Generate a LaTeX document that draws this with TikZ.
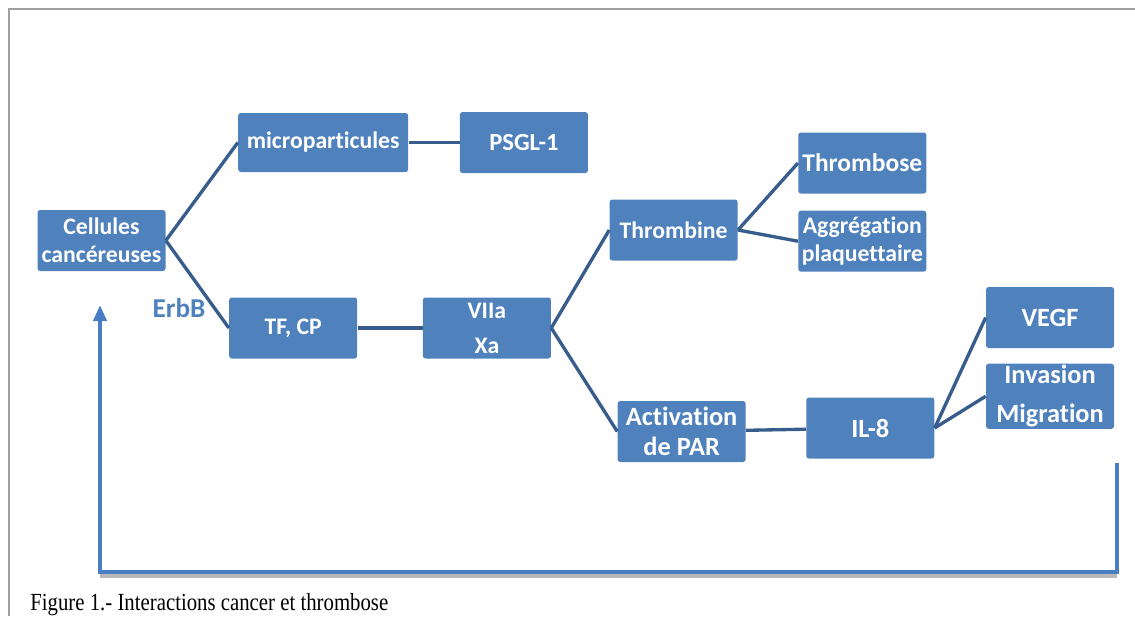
\documentclass[tikz,border=0pt]{standalone}
\usepackage{fontspec}
\setmainfont{Liberation Serif}
\newfontfamily\calib[Ligatures=NoCommon]{Carlito}
\usetikzlibrary{arrows.meta, positioning}
\definecolor{boxblue}{RGB}{79,129,189}
\definecolor{linkblue}{RGB}{56,93,140}
\definecolor{backblue}{RGB}{74,126,196}

\begin{document}
\begin{tikzpicture}[
    node distance=1.2cm and 1.2cm,
    cellbox/.style={fill=boxblue, rounded corners=1.5pt, minimum width=2.56cm, minimum height=1.22cm, inner sep=1pt, align=center, text=white, font=\calib\bfseries\fontsize{13.5}{16}\selectfont},
    bigtext/.style={font=\calib\bfseries\fontsize{15}{17}\selectfont},
    link/.style={draw=linkblue, line width=1.9pt},
    feedback/.style={draw=backblue, line width=2.8pt, -{Triangle[length=0.32cm, width=0.26cm]}},
    fbshadow/.style={draw=gray!55, line width=2pt},
  ]
    \useasboundingbox (0,0) rectangle (22.7,-12.32);

    % page frame
    \draw[gray!75, line width=1.5pt] (0.18,-12.32) -- (0.18,-0.18) -- (22.7,-0.18);

    % Boxes
    \node[cellbox] (cell) at (2.03,-4.81) {Cellules\\cancéreuses};
    \node[cellbox, minimum width=3.4cm, minimum height=1.18cm, right=1.44cm of cell, yshift=1.96cm] (micro) {microparticules};
    \node[cellbox, font=\calib\bfseries\fontsize{14}{16}\selectfont, right=1.02cm of micro] (psgl) {PSGL-1};
    \node[cellbox, right=1.26cm of cell, yshift=-1.75cm] (tfcp) {TF, CP};
    \node[cellbox, right=1.3cm of tfcp] (vx) {VIIa\\[4pt]Xa};
    \node[cellbox, right=1.16cm of vx, yshift=1.96cm] (thrombine) {Thrombine};
    \node[cellbox, bigtext, right=1.32cm of vx, yshift=-2.07cm] (activ) {Activation\\de PAR};
    \node[cellbox, font=\calib\bfseries\fontsize{14.5}{17}\selectfont, right=1.2cm of thrombine, yshift=1.34cm] (thrombose) {Thrombose};
    \node[cellbox, below=0.33cm of thrombose] (aggreg) {Aggrégation\\plaquettaire};
    \node[cellbox, bigtext, right=1.2cm of activ, yshift=0.07cm] (il8) {IL-8};
    \node[cellbox, bigtext, right=1.02cm of il8, yshift=2.21cm] (vegf) {VEGF};
    \node[cellbox, bigtext, below=0.3cm of vegf] (invas) {Invasion\\[5pt]Migration};

    % Label
    \node[font=\calib\bfseries\fontsize{15.5}{18}\selectfont, text=boxblue, inner sep=0pt, left=0.46cm of tfcp, yshift=0.4cm] (erbb) {ErbB};

    % Links
    \draw[link] (cell.east) -- (micro.west);
    \draw[link] (cell.east) -- (tfcp.west);
    \draw[link] (micro) -- (psgl);
    \draw[link] (tfcp) -- (vx);
    \draw[link] (vx.east) -- (thrombine.west);
    \draw[link] (vx.east) -- (activ.west);
    \draw[link] (thrombine.east) -- (thrombose.west);
    \draw[link] (thrombine.east) -- (aggreg.west);
    \draw[link] (activ) -- (il8);
    \draw[link] (il8.east) -- (vegf.west);
    \draw[link] (il8.east) -- (invas.west);

    % Feedback loop
    \coordinate (fbstart) at (22.34,-9.26);
    \coordinate (fbcorner) at (22.34,-11.44);
    \coordinate (fbleft) at (2.0,-11.44);
    \coordinate (fbend) at (2.0,-6.1);
    \draw[fbshadow] ([yshift=-0.08cm]fbcorner) -- ([yshift=-0.08cm]fbleft);
    \draw[feedback] (fbstart) -- (fbcorner) -- (fbleft) -- (fbend);

    % Caption
    \node[anchor=base west, inner sep=0pt, font=\fontsize{14}{16}\selectfont] (caption) at (0.6,-12.2) {\scalebox{0.845}[1]{Figure 1.- Interactions cancer et thrombose}};
\end{tikzpicture}
\end{document}
